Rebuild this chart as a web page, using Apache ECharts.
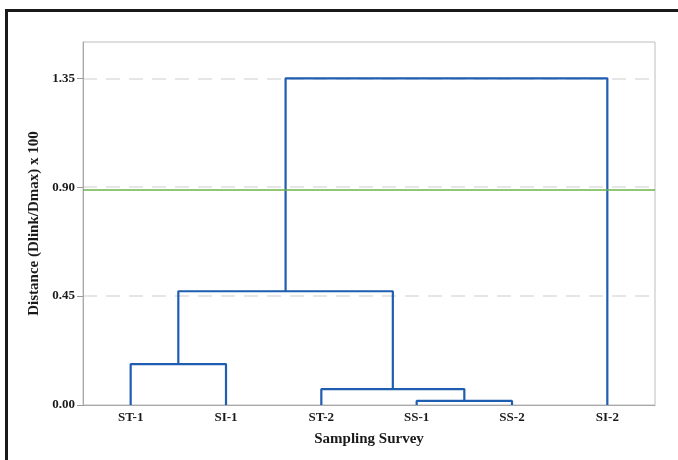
<!DOCTYPE html>
<html>
<head>
<meta charset="utf-8">
<style>
  html, body { margin: 0; padding: 0; background: #fff; }
  #chart { width: 678px; height: 460px; }
</style>
<script src="https://cdn.jsdelivr.net/npm/echarts@6/dist/echarts.min.js"></script>
</head>
<body>
<div id="chart"></div>
<script>
// Leaves in display order
const leaves = ['ST-1', 'SI-1', 'ST-2', 'SS-1', 'SS-2', 'SI-2'];
// Merges: [left node, right node, height]; nodes 0..5 are leaves, 6+ are merges in order
const merges = [
  [3, 4, 0.017],   // 6: SS-1 + SS-2
  [2, 6, 0.066],   // 7: ST-2 + (SS)
  [0, 1, 0.169],   // 8: ST-1 + SI-1
  [8, 7, 0.470],   // 9
  [9, 5, 1.350]    // 10: + SI-2
];
const yTicks = [0, 0.45, 0.90, 1.35];
const cutLevel = 0.89;

// Node x (leaf index or midpoint of children) and height
const nodeX = leaves.map((_, i) => i);
const nodeY = leaves.map(() => 0);
const links = [];
merges.forEach(([a, b, h]) => {
  links.push([[nodeX[a], nodeY[a]], [nodeX[a], h], [nodeX[b], h], [nodeX[b], nodeY[b]]]);
  nodeX.push((nodeX[a] + nodeX[b]) / 2);
  nodeY.push(h);
});

const serif = '"Liberation Serif", "DejaVu Serif", serif';
const series = links.map((pts, i) => ({
  type: 'line',
  xAxisIndex: 1,
  data: pts,
  symbol: 'none',
  lineStyle: { color: '#1f5db0', width: 2.2 },
  z: 3,
  silent: true,
  markLine: i === 0 ? {
    silent: true,
    symbol: 'none',
    label: { show: false },
    lineStyle: { color: '#6db34a', width: 1.5, type: 'solid' },
    data: [{ yAxis: cutLevel }]
  } : undefined
}));

const chart = echarts.init(document.getElementById('chart'));
chart.setOption({
  animation: false,
  grid: {
    left: 83, right: 23, top: 42, bottom: 55,
    show: true, borderColor: '#bdbdbd', borderWidth: 1
  },
  xAxis: [{
    type: 'category',
    data: leaves,
    boundaryGap: true,
    name: 'Sampling Survey',
    nameLocation: 'middle',
    nameGap: 27,
    nameTextStyle: { fontFamily: serif, fontWeight: 'bold', fontSize: 15, color: '#1a1a1a' },
    axisLine: { lineStyle: { color: '#a8a8a8' } },
    axisTick: { show: false },
    axisLabel: { fontFamily: serif, fontWeight: 'bold', fontSize: 13, color: '#1a1a1a', margin: 6 }
  }, {
    type: 'value',
    min: -0.5, max: 5.5,
    show: false
  }],
  yAxis: {
    type: 'value',
    min: 0, max: 1.5, interval: 0.45,
    name: 'Distance (Dlink/Dmax) x 100',
    nameLocation: 'middle',
    nameGap: 39,
    nameTextStyle: { fontFamily: serif, fontWeight: 'bold', fontSize: 15, color: '#1a1a1a' },
    axisLine: { show: true, onZero: false, lineStyle: { color: '#a8a8a8' } },
    axisTick: { show: true, length: 6, lineStyle: { color: '#999' }, customValues: yTicks },
    axisLabel: {
      fontFamily: serif, fontWeight: 'bold', fontSize: 13, color: '#1a1a1a', margin: 8,
      customValues: yTicks,
      formatter: v => v.toFixed(2)
    },
    splitLine: { show: true, lineStyle: { color: '#dedede', type: [14, 9], width: 1.5 } }
  },
  graphic: [
    { type: 'line', shape: { x1: 6.5, y1: 9, x2: 6.5, y2: 460 }, style: { stroke: '#1a1a1a', lineWidth: 3 } },
    { type: 'line', shape: { x1: 5, y1: 10.5, x2: 678, y2: 10.5 }, style: { stroke: '#1a1a1a', lineWidth: 3 } }
  ],
  series
});
</script>
</body>
</html>
